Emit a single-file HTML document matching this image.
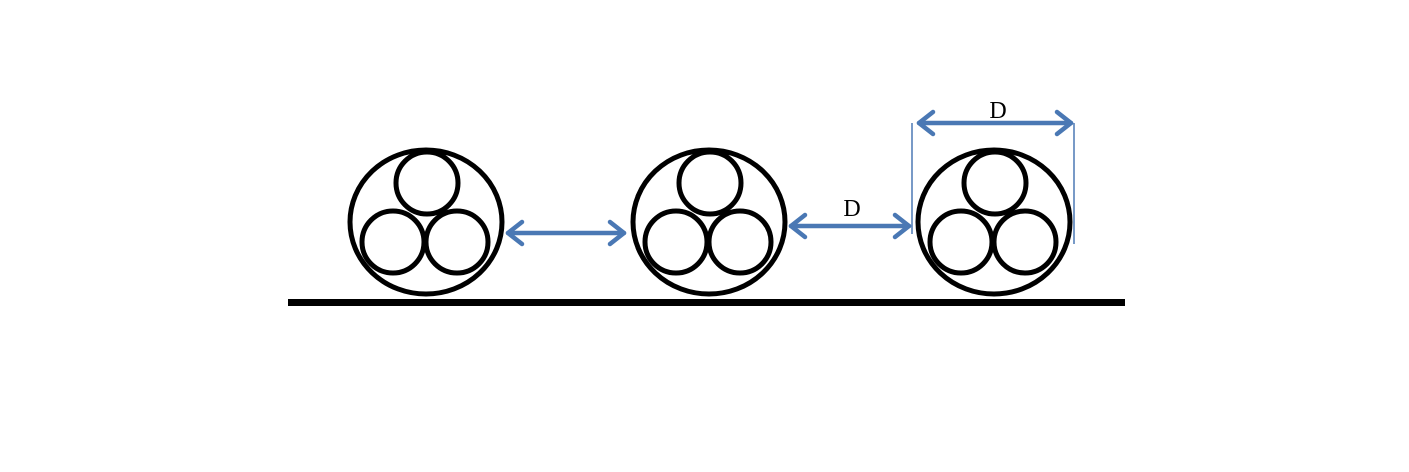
<!DOCTYPE html>
<html><head><style>html,body{margin:0;padding:0;background:#fff;}svg{display:block}</style></head>
<body>
<svg width="1409" height="472" viewBox="0 0 1409 472" xmlns="http://www.w3.org/2000/svg">
<defs>
<g id="cable" fill="none" stroke="#000" stroke-width="5">
  <ellipse cx="0" cy="0" rx="76" ry="72"/>
  <circle cx="1" cy="-39" r="31"/>
  <circle cx="-33" cy="20" r="31"/>
  <circle cx="31" cy="20" r="31"/>
</g>
</defs>
<use href="#cable" x="426" y="222"/>
<use href="#cable" x="709" y="222"/>
<use href="#cable" x="994" y="222"/>
<rect x="288" y="299" width="837" height="7" fill="#000"/>
<g stroke="#4a78b4" stroke-width="4.5" fill="none" stroke-linecap="round" stroke-linejoin="round">
  <line x1="508" y1="233" x2="624" y2="233"/>
  <polyline points="522,222 508,233 522,244"/>
  <polyline points="610,222 624,233 610,244"/>
  <line x1="791" y1="226" x2="909" y2="226"/>
  <polyline points="805,215 791,226 805,237"/>
  <polyline points="895,215 909,226 895,237"/>
  <line x1="919" y1="123" x2="1071" y2="123"/>
  <polyline points="933,112 919,123 933,134"/>
  <polyline points="1057,112 1071,123 1057,134"/>
</g>
<g stroke="#4a78b4" stroke-width="1.5">
  <line x1="912" y1="123" x2="912" y2="234"/>
  <line x1="1074" y1="123" x2="1074" y2="244"/>
</g>
<text x="852" y="216" font-family="Liberation Serif, serif" font-size="24" text-anchor="middle">D</text>
<text x="998" y="118" font-family="Liberation Serif, serif" font-size="24" text-anchor="middle">D</text>
</svg>
</body></html>
